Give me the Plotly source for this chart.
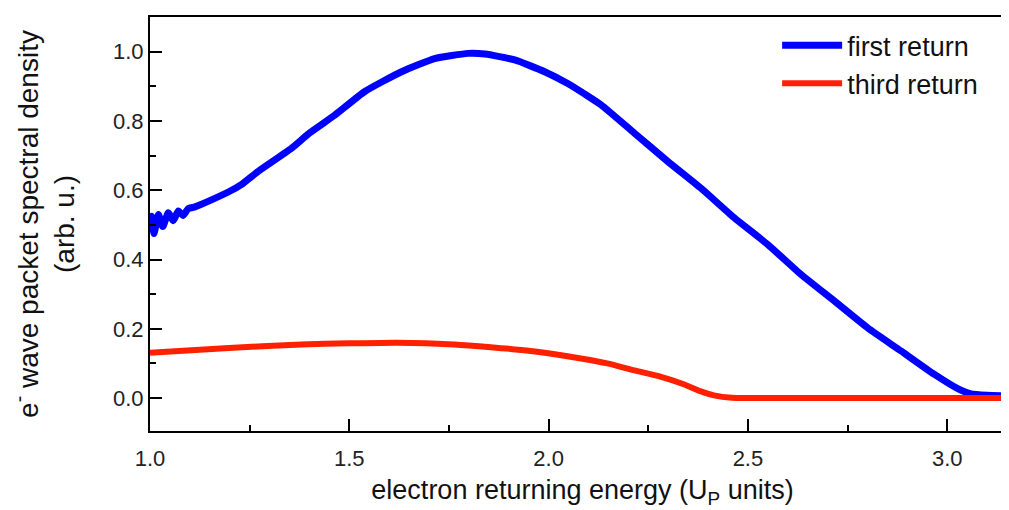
import plotly.graph_objects as go

series_names = ["first return", "third return"]

first_x = [1.000, 1.004, 1.010, 1.021, 1.032, 1.046, 1.058, 1.071, 1.083, 1.096,
           1.113, 1.150, 1.200, 1.230, 1.271, 1.355, 1.400, 1.464, 1.539, 1.631,
           1.714, 1.798, 1.840, 1.915, 1.990, 2.048, 2.090, 2.132, 2.215, 2.299,
           2.382, 2.466, 2.550, 2.633, 2.717, 2.800, 2.884, 2.967, 3.030, 3.060,
           3.100, 3.180]
first_y = [0.500, 0.525, 0.475, 0.530, 0.495, 0.535, 0.512, 0.540, 0.527, 0.547,
           0.552, 0.570, 0.597, 0.617, 0.654, 0.721, 0.765, 0.817, 0.885, 0.942,
           0.980, 0.995, 0.993, 0.976, 0.942, 0.908, 0.878, 0.846, 0.765, 0.683,
           0.606, 0.520, 0.443, 0.357, 0.280, 0.203, 0.136, 0.069, 0.025, 0.012,
           0.008, 0.005]

third_x = [1.000, 1.187, 1.379, 1.500, 1.619, 1.763, 1.855, 1.955, 2.051, 2.147,
           2.215, 2.280, 2.339, 2.380, 2.415, 2.460, 2.500, 3.200]
third_y = [0.131, 0.144, 0.155, 0.158, 0.160, 0.155, 0.147, 0.136, 0.120, 0.100,
           0.080, 0.062, 0.040, 0.020, 0.008, 0.001, 0.000, 0.000]

x_range = [1.0, 3.17]
y_range = [-0.095, 1.1]
y_ticks = [0.0, 0.2, 0.4, 0.6, 0.8, 1.0]
x_ticks = [1.0, 1.5, 2.0, 2.5, 3.0]

fig = go.Figure()
fig.add_trace(go.Scatter(x=first_x, y=first_y, mode="lines", name=series_names[0],
                         line=dict(color="#0000ff", width=7, shape="spline", smoothing=0.5)))
fig.add_trace(go.Scatter(x=third_x, y=third_y, mode="lines", name=series_names[1],
                         line=dict(color="#ff2000", width=6, shape="spline", smoothing=0.6)))

font_family = "Liberation Sans, Arial, sans-serif"
axis_common = dict(showline=True, linecolor="black", linewidth=2,
                   ticks="inside", ticklen=12, tickwidth=2, tickcolor="black",
                   showgrid=False, zeroline=False,
                   tickfont=dict(size=22, color="#222", family=font_family))

fig.update_xaxes(range=x_range, tickvals=x_ticks, ticktext=[f"{v:.1f}" for v in x_ticks],
                 mirror=True, ticklabelstandoff=7,
                 minor=dict(dtick=0.25, ticks="inside", ticklen=6, tickwidth=2, tickcolor="black", tick0=1.0),
                 title=dict(text="electron returning energy (U<sub>P</sub> units)",
                            font=dict(size=27, color="#111", family=font_family), standoff=10),
                 **axis_common)
fig.update_yaxes(range=y_range, tickvals=y_ticks, ticktext=[f"{v:.1f}" for v in y_ticks],
                 mirror=False,
                 minor=dict(dtick=0.1, ticks="inside", ticklen=6, tickwidth=2, tickcolor="black", tick0=0.0),
                 title=dict(text="e<sup>-</sup> wave packet spectral density<br>(arb. u.)",
                            font=dict(size=28, color="#111", family=font_family), standoff=36),
                 **axis_common)

fig.update_layout(
    width=1009, height=510,
    margin=dict(l=142, r=2, t=9, b=87),
    paper_bgcolor="white", plot_bgcolor="white",
    font=dict(family=font_family),
    legend=dict(x=0.725, y=0.99, xanchor="left", yanchor="top",
                font=dict(size=27, color="#111", family=font_family),
                bgcolor="rgba(0,0,0,0)", itemwidth=60, tracegroupgap=0),
    showlegend=True,
)

fig.write_html("out.html")
